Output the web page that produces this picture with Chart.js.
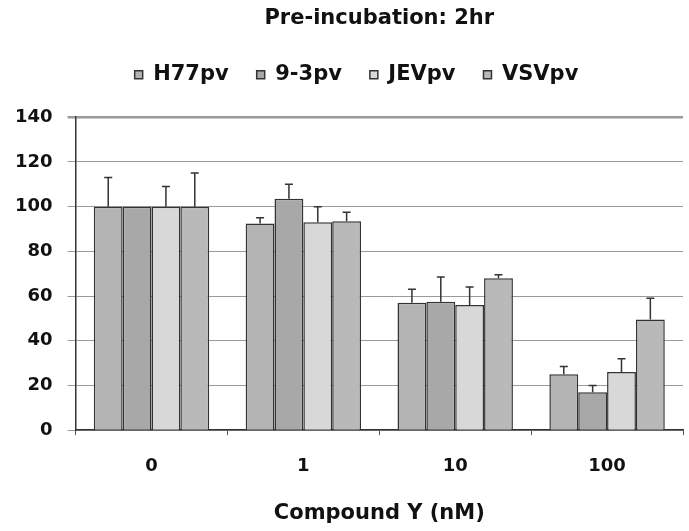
<!DOCTYPE html>
<html lang="en">
<head>
    <meta charset="UTF-8">
    <title>Pre-incubation: 2hr</title>
    <script src="https://cdn.jsdelivr.net/npm/chart.js"></script>
    <style>
        html, body { margin: 0; padding: 0; background: #fff; }
        .chart-box { width: 689px; height: 531px; }
    </style>
</head>
<body>
    <div class="chart-box">
        <canvas id="chartCanvas"></canvas>
    </div>
    <script>
        // data
        const categories = ['0', '1', '10', '100'];
        const seriesNames = ['H77pv', '9-3pv', 'JEVpv', 'VSVpv'];
        const h77 = [100, 92.5, 57, 25];
        const h77Err = [13, 2.5, 6, 3.5];
        const p93 = [100, 103.5, 57.5, 17];
        const p93Err = [0, 6.5, 11, 3];
        const jev = [100, 93, 56, 26];
        const jevErr = [9, 7, 8, 6];
        const vsv = [100, 93.5, 68, 49.5];
        const vsvErr = [15, 4, 1.5, 9.5];
        const yTicks = [0, 20, 40, 60, 80, 100, 120, 140];

        const fills = ['#b4b4b4', '#a8a8a8', '#d8d8d8', '#b9b9b9'];
        const values = [h77, p93, jev, vsv];
        const errors = [h77Err, p93Err, jevErr, vsvErr];

        Chart.defaults.font.family = 'DejaVu Sans';
        Chart.defaults.color = '#111';

        // upper error bars, drawn with the chart's own scale
        const errorBars = {
            id: 'errorBars',
            afterDatasetsDraw(chart) {
                const ctx = chart.ctx;
                const y = chart.scales.y;
                ctx.save();
                ctx.strokeStyle = '#333';
                ctx.lineWidth = 1.5;
                chart.data.datasets.forEach((ds, i) => {
                    const meta = chart.getDatasetMeta(i);
                    meta.data.forEach((bar, j) => {
                        const err = ds.errors[j];
                        if (!err) return;
                        const top = y.getPixelForValue(ds.data[j] + err);
                        ctx.beginPath();
                        ctx.moveTo(bar.x, bar.y);
                        ctx.lineTo(bar.x, top);
                        ctx.moveTo(bar.x - 4, top);
                        ctx.lineTo(bar.x + 4, top);
                        ctx.stroke();
                    });
                });
                ctx.restore();
            }
        };

        // more room under the legend, and nudge it a bit right
        const legendSpace = {
            id: 'legendSpace',
            beforeInit(chart) {
                const fit = chart.legend.fit;
                chart.legend.fit = function () {
                    fit.call(this);
                    this.height += 22;
                };
            },
            afterLayout(chart) {
                chart.legend.left += 15;
                chart.legend.right += 15;
            }
        };

        const ctx = document.getElementById('chartCanvas').getContext('2d');
        new Chart(ctx, {
            type: 'bar',
            data: {
                labels: categories,
                datasets: seriesNames.map((name, i) => ({
                    label: name,
                    data: values[i],
                    errors: errors[i],
                    backgroundColor: fills[i],
                    borderColor: '#333',
                    borderWidth: 1.5,
                    borderSkipped: 'bottom',
                    barPercentage: 1,
                    categoryPercentage: 0.76
                }))
            },
            options: {
                responsive: true,
                maintainAspectRatio: false,
                animation: false,
                layout: { padding: { left: 0, right: 6, top: 0, bottom: 5 } },
                plugins: {
                    title: {
                        display: true,
                        text: 'Pre-incubation: 2hr',
                        fullSize: false,
                        font: { size: 21, weight: 'bold' },
                        padding: { top: 6, bottom: 5 }
                    },
                    legend: {
                        position: 'top',
                        labels: {
                            boxWidth: 8,
                            boxHeight: 8,
                            padding: 28,
                            font: { size: 21, weight: 'bold' }
                        }
                    },
                    tooltip: { enabled: false }
                },
                scales: {
                    x: {
                        grid: {
                            offset: true,
                            drawOnChartArea: false,
                            drawTicks: true,
                            tickLength: 5,
                            color: '#555'
                        },
                        border: { color: '#333', width: 1.5 },
                        ticks: { padding: 20, font: { size: 18, weight: 'bold' } },
                        title: {
                            display: true,
                            text: 'Compound Y (nM)',
                            font: { size: 21, weight: 'bold' },
                            padding: { top: 4, bottom: 0 }
                        }
                    },
                    y: {
                        min: 0,
                        max: 140,
                        afterBuildTicks(axis) {
                            axis.ticks = yTicks.map(v => ({ value: v }));
                        },
                        grid: {
                            color: '#9a9a9a',
                            lineWidth: c => (c.tick && c.tick.value === 140 ? 2.5 : 1),
                            tickLength: 8
                        },
                        border: { color: '#333', width: 1.5 },
                        ticks: { padding: 15, font: { size: 18, weight: 'bold' } }
                    }
                }
            },
            plugins: [errorBars, legendSpace]
        });
    </script>
</body>
</html>
